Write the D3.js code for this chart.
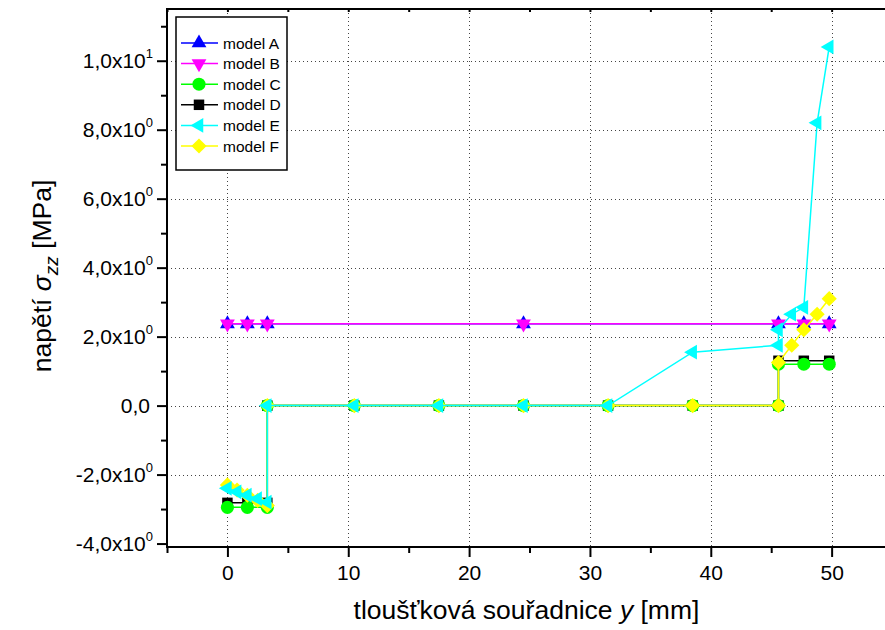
<!DOCTYPE html>
<html>
<head>
<meta charset="utf-8">
<script src="https://cdn.jsdelivr.net/npm/d3@7"></script>
<style>
    body { margin: 0; background: #fff; }
    svg { display: block; font-family: "Liberation Sans", Arial, sans-serif; }
</style>
</head>
<body>
<svg id="chart" width="885" height="630"></svg>
<script>
// tloušťková souřadnice y [mm]
var xAB = [0, 1.65, 3.3, 24.5, 45.6, 47.7, 49.8];
var yA = [2.37, 2.37, 2.37, 2.37, 2.37, 2.37, 2.37];
var yB = [2.37, 2.37, 2.37, 2.37, 2.37, 2.37, 2.37];

var xCD = [0, 1.65, 3.3, 3.3, 10.5, 17.5, 24.5, 31.5, 38.5, 45.6, 45.6, 47.7, 49.8];
var yC = [-2.95, -2.95, -2.95, 0, 0, 0, 0, 0, 0, 0, 1.2, 1.2, 1.2];
var yD = [-2.82, -2.82, -2.82, 0, 0, 0, 0, 0, 0, 0, 1.3, 1.3, 1.3];

var xEF = [0, 0.8, 1.65, 2.5, 3.3, 3.3, 10.5, 17.5, 24.5, 31.5, 38.5, 45.6, 45.6, 46.7, 47.7, 48.8, 49.8];
var yE = [-2.4, -2.5, -2.6, -2.7, -2.8, 0, 0, 0, 0, 0, 1.55, 1.75, 2.2, 2.65, 2.85, 8.2, 10.4];
var yF = [-2.3, -2.45, -2.6, -2.75, -2.9, 0, 0, 0, 0, 0, 0, 0, 1.25, 1.75, 2.2, 2.65, 3.1];

var seriesNames = ['model A', 'model B', 'model C', 'model D', 'model E', 'model F'];

var xTicks = [0, 10, 20, 30, 40, 50];
var yTicks = [-4, -2, 0, 2, 4, 6, 8, 10];
var yTickMantissa = ['-4,0x10', '-2,0x10', '0,0', '2,0x10', '4,0x10', '6,0x10', '8,0x10', '1,0x10'];
var yTickExponent = ['0', '0', '', '0', '0', '0', '0', '1'];

(function () {
    var svg = d3.select('#chart');
    var left = 167, right = 886, top = 9, bottom = 547;

    var x = d3.scaleLinear().domain([-5, 54.5]).range([left, right]);
    var y = d3.scaleLinear().domain([-4.1, 11.5]).range([bottom, top]);

    var series = [
        {name: seriesNames[0], xs: xAB, ys: yA, color: '#0000ff', shape: 'up'},
        {name: seriesNames[1], xs: xAB, ys: yB, color: '#ff00ff', shape: 'down'},
        {name: seriesNames[2], xs: xCD, ys: yC, color: '#00ff00', shape: 'circle'},
        {name: seriesNames[3], xs: xCD, ys: yD, color: '#000000', shape: 'square'},
        {name: seriesNames[4], xs: xEF, ys: yE, color: '#00ffff', shape: 'left'},
        {name: seriesNames[5], xs: xEF, ys: yF, color: '#ffff00', shape: 'diamond'}
    ];
    // draw order seen in the picture
    var drawOrder = [0, 1, 3, 2, 5, 4];

    function symbolPath(shape) {
        if (shape === 'circle') return d3.symbol(d3.symbolCircle, 135)();
        if (shape === 'square') return d3.symbol(d3.symbolSquare, 110)();
        if (shape === 'diamond') return d3.symbol(d3.symbolSquare, 115)();
        return d3.symbol(d3.symbolTriangle, 95)();
    }

    function symbolRotate(shape) {
        if (shape === 'down') return 180;
        if (shape === 'left') return -90;
        if (shape === 'diamond') return 45;
        return 0;
    }

    // grid
    var grid = svg.append('g').attr('stroke', '#444').attr('stroke-width', 1).attr('stroke-dasharray', '1,3');
    grid.selectAll('.vg').data(xTicks).enter().append('line')
        .attr('x1', function (d) { return Math.round(x(d)) + 0.5; })
        .attr('x2', function (d) { return Math.round(x(d)) + 0.5; })
        .attr('y1', top).attr('y2', bottom);
    grid.selectAll('.hg').data(yTicks.filter(function (d) { return d > -4; })).enter().append('line')
        .attr('y1', function (d) { return Math.round(y(d)) + 0.5; })
        .attr('y2', function (d) { return Math.round(y(d)) + 0.5; })
        .attr('x1', left).attr('x2', right);

    // series
    var line = d3.line().x(function (d) { return x(d[0]); }).y(function (d) { return y(d[1]); });

    drawOrder.forEach(function (i) {
        var s = series[i];
        var pts = s.xs.map(function (v, k) { return [v, s.ys[k]]; });
        svg.append('path').datum(pts)
            .attr('d', line)
            .attr('fill', 'none')
            .attr('stroke', s.color)
            .attr('stroke-width', 1.5);
        svg.append('g').selectAll('path').data(pts).enter().append('path')
            .attr('d', symbolPath(s.shape))
            .attr('transform', function (d) {
                return 'translate(' + x(d[0]) + ',' + y(d[1]) + ') rotate(' + symbolRotate(s.shape) + ')';
            })
            .attr('fill', s.color);
    });

    // axes
    var xAxis = svg.append('g').attr('transform', 'translate(0,' + bottom + ')')
        .call(d3.axisBottom(x).tickValues(xTicks).tickSize(10).tickPadding(8).tickFormat(d3.format('d')));
    svg.append('g').attr('transform', 'translate(0,' + bottom + ')')
        .call(d3.axisBottom(x).tickValues([-5, 5, 15, 25, 35, 45]).tickSize(6).tickFormat(''));
    svg.append('g').attr('transform', 'translate(0,' + top + ')')
        .call(d3.axisBottom(x).tickValues(d3.range(-5, 55, 5)).tickSize(3).tickFormat(''));

    svg.append('g').attr('transform', 'translate(' + left + ',0)')
        .call(d3.axisLeft(y).tickValues(yTicks).tickSize(10).tickFormat(''));
    svg.append('g').attr('transform', 'translate(' + left + ',0)')
        .call(d3.axisLeft(y).tickValues([-3, -1, 1, 3, 5, 7, 9, 11]).tickSize(6).tickFormat(''));

    svg.selectAll('.domain').remove();
    svg.selectAll('.tick line').attr('stroke', '#000').attr('stroke-width', 2);

    xAxis.selectAll('text').attr('font-size', 21).attr('fill', '#000')
        .attr('font-family', '"Liberation Sans", Arial, sans-serif');

    // y tick labels with superscript exponent
    var yl = svg.append('g').attr('font-size', 21).attr('text-anchor', 'end');
    yTicks.forEach(function (v, i) {
        var t = yl.append('text')
            .attr('x', yTickExponent[i] ? 153 : 150)
            .attr('y', y(v) + 7.5);
        t.append('tspan').text(yTickMantissa[i]);
        if (yTickExponent[i]) {
            t.append('tspan').attr('font-size', 13).attr('dy', -10).text(yTickExponent[i]);
        }
    });

    // frame
    svg.append('line').attr('x1', left).attr('x2', left).attr('y1', top - 1).attr('y2', bottom + 1)
        .attr('stroke', '#000').attr('stroke-width', 2);
    svg.append('line').attr('x1', left - 1).attr('x2', right).attr('y1', bottom).attr('y2', bottom)
        .attr('stroke', '#000').attr('stroke-width', 2);
    svg.append('line').attr('x1', left - 1).attr('x2', right).attr('y1', top).attr('y2', top)
        .attr('stroke', '#000').attr('stroke-width', 2);

    // axis titles
    var xt = svg.append('text').attr('x', (left + right) / 2).attr('y', 619)
        .attr('text-anchor', 'middle').attr('font-size', 26.5);
    xt.append('tspan').text('tloušťková souřadnice ');
    xt.append('tspan').attr('font-style', 'italic').text('y');
    xt.append('tspan').text(' [mm]');

    var yt = svg.append('text').attr('transform', 'translate(51,' + 276 + ') rotate(-90)')
        .attr('text-anchor', 'middle').attr('font-size', 26.5);
    yt.append('tspan').text('napětí ');
    yt.append('tspan').attr('font-style', 'italic').text('σ');
    yt.append('tspan').attr('font-style', 'italic').attr('font-size', 19).attr('dy', 7).text('zz');
    yt.append('tspan').attr('dy', -7).text(' [MPa]');

    // legend
    var lg = svg.append('g').attr('transform', 'translate(176,17)');
    lg.append('rect').attr('width', 111).attr('height', 153)
        .attr('fill', '#fff').attr('stroke', '#000').attr('stroke-width', 1.5);
    series.forEach(function (s, i) {
        var ly = 26 + i * 20.6;
        lg.append('line').attr('x1', 5).attr('x2', 42).attr('y1', ly).attr('y2', ly)
            .attr('stroke', s.color).attr('stroke-width', 1.5);
        lg.append('path').attr('d', symbolPath(s.shape))
            .attr('transform', 'translate(23,' + ly + ') rotate(' + symbolRotate(s.shape) + ')')
            .attr('fill', s.color);
        lg.append('text').attr('x', 47).attr('y', ly + 5.5).attr('font-size', 15.5).text(s.name);
    });
})();
</script>
</body>
</html>
